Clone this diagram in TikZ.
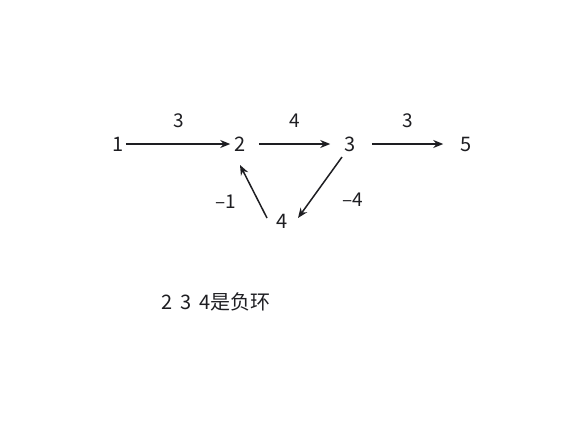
\documentclass[tikz,border=0pt]{standalone}
\usepackage{fontspec}
\setmainfont{Noto Sans CJK SC}
\usepackage{tikz}
\usetikzlibrary{positioning,arrows.meta,calc}
\definecolor{inkgray}{RGB}{30, 30, 34}

\begin{document}
\begin{tikzpicture}[x=1pt, y=-1pt,
    vtx/.style={inner sep=0pt, font=\fontsize{20}{20}\selectfont, text=inkgray},
    wlabel/.style={font=\fontsize{19}{19}\selectfont, text=inkgray},
    edgearrow/.style={-{Stealth[length=10pt, width=8pt]}, line width=1.5pt, draw=inkgray}]
  \useasboundingbox (0,0) rectangle (584,421);
  % Vertices
  \node[vtx] (n1) at (118,144) {1};
  \node[vtx] (n2) at (240,144) {2};
  \node[vtx] (n3) at (350,144) {3};
  \node[vtx] (n5) at (466,144) {5};
  \node[vtx] (n4) at (282,221) {4};
  % Edges with weights
  \draw[edgearrow, shorten <=2pt, shorten >=4pt] (n1) -- (n2) node[wlabel, midway, above=12pt] {3};
  \draw[edgearrow, shorten <=13pt, shorten >=14pt] (n2.east) -- (n3.west) node[wlabel, midway, above=12pt] {4};
  \draw[edgearrow, shorten <=16pt, shorten >=17pt] (n3.east) -- (n5.west) node[wlabel, midway, above=12pt] {3};
  \draw[edgearrow] ($(n3)+(-8,13)$) -- ($(n4)+(16,-3)$) node[wlabel, pos=0.7, right=27pt] {\textendash4};
  \draw[edgearrow] ($(n4)+(-15,-3)$) -- ($(n2)+(0,21)$) node[wlabel, pos=0.3, left=19pt] {\textendash1};
  % Note
  \node[wlabel, font=\fontsize{20}{20}\selectfont, anchor=west] (note) at (158,302)
    {2\hspace{8pt}3\hspace{8pt}4是负环};
\end{tikzpicture}
\end{document}
